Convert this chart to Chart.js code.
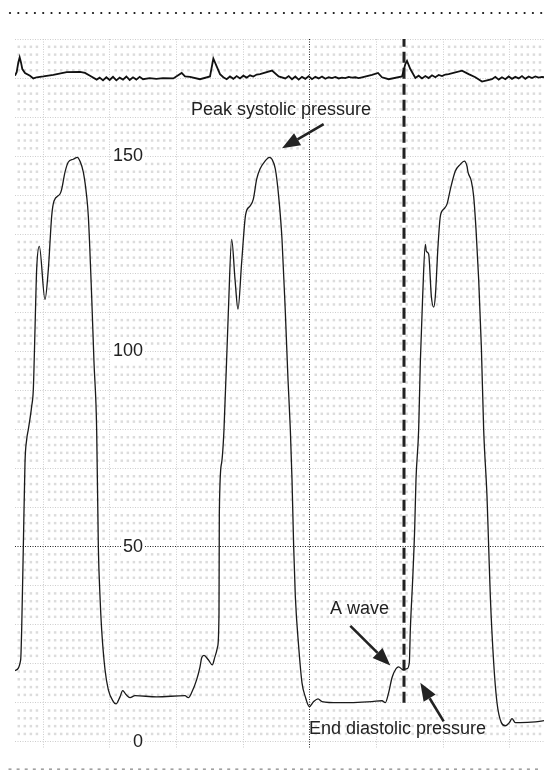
<!DOCTYPE html>
<html>
<head>
<meta charset="utf-8">
<script src="https://cdn.jsdelivr.net/npm/chart.js@4.4.1/dist/chart.umd.min.js"></script>
<style>
  html, body { margin: 0; padding: 0; background: #fff; }
  canvas { display: block; }
</style>
</head>
<body>
<canvas id="chart" width="544" height="770"></canvas>
<script>
// time in ms (major grid every 200 ms), pressure in mmHg
const pressureTime = [-84, -67, -64, -59, -54, -49, -44, -34, -29, -24, -19, -11, 6, 16, 26, 33, 51, 56, 66, 76, 91, 103, 111, 121, 131, 136, 146, 153, 161, 166, 171, 176, 186, 196, 211, 219, 231, 239, 249, 261, 276, 341, 426, 436, 446, 461, 471, 476, 483, 496, 508, 516, 524, 528, 529, 536, 543, 556, 566, 576, 585, 596, 608, 621, 631, 641, 651, 666, 679, 687, 697, 707, 717, 727, 735, 742, 747, 752, 757, 767, 777, 787, 799, 812, 825, 837, 887, 987, 1017, 1027, 1037, 1047, 1059, 1067, 1079, 1092, 1099, 1102, 1109, 1115, 1119, 1127, 1132, 1139, 1147, 1150, 1157, 1165, 1172, 1177, 1185, 1192, 1202, 1212, 1222, 1237, 1252, 1264, 1272, 1275, 1285, 1292, 1299, 1307, 1315, 1322, 1332, 1337, 1342, 1352, 1362, 1375, 1387, 1399, 1407, 1417, 1432, 1477, 1503];
const pressureValue = [18.2, 21.0, 28.7, 50, 71.5, 77.4, 80, 85.9, 90.3, 105.6, 121, 126.9, 113.3, 121, 134.6, 138.5, 140.3, 141.5, 145.9, 148.5, 149.2, 149.7, 148.7, 145.9, 139.7, 134.6, 114.1, 97.2, 80, 50, 37.2, 28.7, 18.5, 13.3, 10.3, 9.7, 11.5, 13.1, 12.1, 11.3, 11.8, 11.5, 11.8, 11.3, 12.6, 15.9, 19.2, 21.5, 22.1, 21.0, 19.7, 21.8, 24.4, 33.1, 58.7, 71.5, 80, 110, 128.7, 118.5, 110.8, 122.8, 135.1, 137.2, 139, 144.1, 146.7, 148.7, 149.7, 149.2, 146.7, 139.7, 128.7, 110, 92.8, 80, 67.2, 50, 37.2, 24.4, 15.1, 11.5, 9, 10.3, 11, 10.3, 10, 10.3, 10.5, 10, 12.6, 16.4, 18.7, 19.2, 18.5, 18.7, 20.3, 28.7, 41.5, 54.4, 67.2, 80, 97.2, 114.1, 127.4, 125.6, 124.9, 114.1, 111.3, 114.1, 126.9, 134.6, 136.4, 137.7, 141.5, 146.2, 147.9, 148.7, 147.4, 145.9, 143.6, 139.7, 131.3, 118.5, 101.3, 80, 62.8, 50, 37.2, 20.3, 10, 4.9, 4.1, 4.9, 5.9, 4.9, 4.9, 5.1, 5.4];

// ECG trace drawn on the same vertical scale, above the pressure curve
const ecgTime = [-84, -79, -74, -70, -66, -62, -54, -39, -29, -19, 1, 31, 71, 111, 126, 141, 161, 170, 180, 190, 200, 210, 220, 230, 240, 250, 260, 270, 280, 290, 300, 320, 340, 360, 391, 416, 426, 441, 471, 501, 511, 522, 531, 541, 551, 561, 571, 581, 591, 601, 611, 621, 631, 641, 651, 687, 707, 727, 737, 747, 757, 767, 777, 787, 797, 807, 817, 827, 837, 847, 857, 867, 877, 887, 897, 907, 917, 927, 937, 947, 957, 987, 1005, 1017, 1037, 1077, 1087, 1092, 1102, 1117, 1127, 1137, 1147, 1157, 1167, 1177, 1187, 1197, 1207, 1217, 1257, 1277, 1297, 1317, 1347, 1357, 1367, 1377, 1387, 1397, 1407, 1417, 1427, 1437, 1447, 1457, 1467, 1477, 1487, 1497, 1503];
const ecgValue = [170.6, 171.5, 174, 175.3, 174, 172.3, 171.3, 170.6, 169.9, 170.2, 170.4, 170.8, 171.5, 171.6, 171.3, 170.6, 169.6, 170.1, 169.4, 170.2, 169.5, 170.3, 169.4, 170.1, 169.6, 170.4, 169.5, 170.2, 169.6, 170.3, 169.7, 170.0, 169.8, 170.0, 169.9, 171.3, 170.4, 170.3, 169.7, 170.4, 175.0, 172.8, 171.0, 170.2, 169.7, 170.4, 169.8, 170.5, 169.9, 170.6, 170.1, 170.7, 170.4, 170.9, 171.0, 171.9, 170.4, 169.9, 170.5, 169.7, 170.4, 169.6, 170.3, 169.8, 170.5, 169.7, 170.3, 169.9, 170.4, 169.8, 170.2, 170.0, 170.3, 169.9, 170.1, 170.0, 170.3, 170.1, 170.2, 170.0, 170.2, 170.8, 171.3, 170.2, 169.7, 170.4, 173.6, 174.4, 172.3, 170.0, 170.6, 169.9, 170.5, 170.0, 170.7, 170.2, 170.8, 170.5, 170.9, 171.0, 171.9, 171.0, 170.2, 169.1, 169.7, 170.3, 169.6, 170.2, 169.7, 170.4, 169.8, 170.3, 169.9, 170.5, 169.8, 170.4, 170.0, 170.4, 170.1, 170.3, 170.2];

// thick dashed marker at end diastole
const markerTime = 1083;
const markerRange = [10, 180];

// axes
const xRange = [-84, 1503];
const yRange = [-1.6, 180];
const xGrid = [0, 200, 400, 600, 800, 1000, 1200, 1400];
const yGrid = [0, 10, 20, 30, 40, 50, 60, 70, 80, 90, 100, 110, 120, 130, 140, 150, 160, 170, 180];
const yLabels = [0, 50, 100, 150];
const xDark = 800;
const yDark = 50;

// annotations
const noteText = ['Peak systolic pressure', 'A wave', 'End diastolic pressure'];
const noteTime = [444, 861, 798];
const notePressure = [160.6, 32.6, 2.1];
const arrowFromTime = [842, 922, 1202];
const arrowFromPressure = [158.2, 29.7, 5.2];
const arrowToTime = [717, 1042, 1132];
const arrowToPressure = [152, 19.5, 15.1];

const FONT = '"Liberation Sans", Arial, Helvetica, sans-serif';
const INK = '#222';

function pairs(xs, ys) {
    return xs.map((x, i) => ({ x: x, y: ys[i] }));
}

// background, small dots of the paper and the dotted frame lines
const paperPlugin = {
    id: 'paper',
    beforeDraw(chart) {
        const { ctx, scales: { x, y } } = chart;
        ctx.save();
        ctx.fillStyle = '#fff';
        ctx.fillRect(0, 0, chart.width, chart.height);

        ctx.fillStyle = '#dcdcdc';
        const mStart = Math.ceil(xRange[0] * 11 / 200);
        const mEnd = Math.floor(xRange[1] * 11 / 200);
        for (let n = 1; n < 90; n++) {
            if (n % 5 === 0) continue;
            const py = y.getPixelForValue(n * 2);
            for (let m = mStart; m <= mEnd; m++) {
                if (m % 11 === 0) continue;
                const px = x.getPixelForValue(m * 200 / 11);
                ctx.fillRect(px - 1.25, py - 1.25, 2.5, 2.5);
            }
        }

        ctx.fillStyle = '#111';
        for (let px = 10; px < chart.width; px += 8.3) {
            ctx.beginPath();
            ctx.arc(px, 13, 1.1, 0, Math.PI * 2);
            ctx.fill();
        }
        ctx.fillStyle = '#8a8a8a';
        for (let px = 10; px < chart.width; px += 8.1) {
            ctx.fillRect(px - 1.5, 768.5, 3, 1.3);
        }
        ctx.restore();
    }
};

function drawArrow(ctx, x1, y1, x2, y2) {
    const ang = Math.atan2(y2 - y1, x2 - x1);
    const head = 18, half = 7;
    const bx = x2 - head * Math.cos(ang);
    const by = y2 - head * Math.sin(ang);
    ctx.beginPath();
    ctx.moveTo(x1, y1);
    ctx.lineTo(bx, by);
    ctx.stroke();
    ctx.beginPath();
    ctx.moveTo(x2, y2);
    ctx.lineTo(bx + half * Math.sin(ang), by - half * Math.cos(ang));
    ctx.lineTo(bx - half * Math.sin(ang), by + half * Math.cos(ang));
    ctx.closePath();
    ctx.fill();
}

const notesPlugin = {
    id: 'notes',
    afterDatasetsDraw(chart) {
        const { ctx, scales: { x, y } } = chart;
        ctx.save();
        ctx.fillStyle = INK;
        ctx.strokeStyle = INK;
        ctx.lineWidth = 2.6;
        arrowFromTime.forEach((t, i) => {
            drawArrow(ctx,
                x.getPixelForValue(t), y.getPixelForValue(arrowFromPressure[i]),
                x.getPixelForValue(arrowToTime[i]), y.getPixelForValue(arrowToPressure[i]));
        });
        ctx.font = '18px ' + FONT;
        ctx.textAlign = 'left';
        ctx.textBaseline = 'alphabetic';
        noteText.forEach((txt, i) => {
            ctx.fillText(txt, x.getPixelForValue(noteTime[i]), y.getPixelForValue(notePressure[i]));
        });
        ctx.restore();
    }
};

new Chart(document.getElementById('chart'), {
    type: 'line',
    data: {
        datasets: [
            {
                label: 'LV pressure',
                data: pairs(pressureTime, pressureValue),
                borderColor: '#1a1a1a',
                borderWidth: 1.3,
                pointRadius: 0,
                cubicInterpolationMode: 'monotone',
                fill: false
            },
            {
                label: 'ECG',
                data: pairs(ecgTime, ecgValue),
                borderColor: '#111',
                borderWidth: 1.8,
                pointRadius: 0,
                tension: 0,
                fill: false
            },
            {
                label: 'End diastole',
                data: [{ x: markerTime, y: markerRange[0] }, { x: markerTime, y: markerRange[1] }],
                borderColor: INK,
                borderWidth: 3,
                borderDash: [11, 5],
                pointRadius: 0,
                fill: false
            }
        ]
    },
    options: {
        responsive: false,
        animation: false,
        layout: { padding: { left: 15, top: 39, right: 0, bottom: 22 } },
        plugins: {
            legend: { display: false },
            tooltip: { enabled: false }
        },
        scales: {
            x: {
                type: 'linear',
                min: xRange[0],
                max: xRange[1],
                afterBuildTicks: axis => { axis.ticks = xGrid.map(v => ({ value: v })); },
                afterFit: axis => { axis.height = 0; axis.paddingLeft = 0; axis.paddingRight = 0; },
                ticks: { display: false },
                grid: {
                    drawTicks: false,
                    lineWidth: 1,
                    color: c => (c.tick && c.tick.value === xDark) ? INK : '#cdcdcd'
                },
                border: { display: false, dash: [1, 1.5] }
            },
            y: {
                type: 'linear',
                min: yRange[0],
                max: yRange[1],
                afterBuildTicks: axis => { axis.ticks = yGrid.map(v => ({ value: v })); },
                // labels sit inside the plot, so the axis takes no room
                afterFit: axis => { axis.width = 0; axis.paddingTop = 0; axis.paddingBottom = 0; },
                ticks: {
                    mirror: true,
                    crossAlign: 'far',
                    padding: 98,
                    autoSkip: false,
                    color: INK,
                    font: { family: FONT, size: 18 },
                    callback: v => yLabels.includes(v) ? String(v) : '',
                    showLabelBackdrop: c => c.tick && yLabels.includes(c.tick.value),
                    backdropColor: '#fff',
                    backdropPadding: { top: 0, bottom: 0, left: 2, right: 2 }
                },
                grid: {
                    drawTicks: false,
                    lineWidth: 1,
                    color: c => (c.tick && c.tick.value === yDark) ? INK : '#cdcdcd'
                },
                border: { display: false, dash: [1, 1.5] }
            }
        }
    },
    plugins: [paperPlugin, notesPlugin]
});
</script>
</body>
</html>
